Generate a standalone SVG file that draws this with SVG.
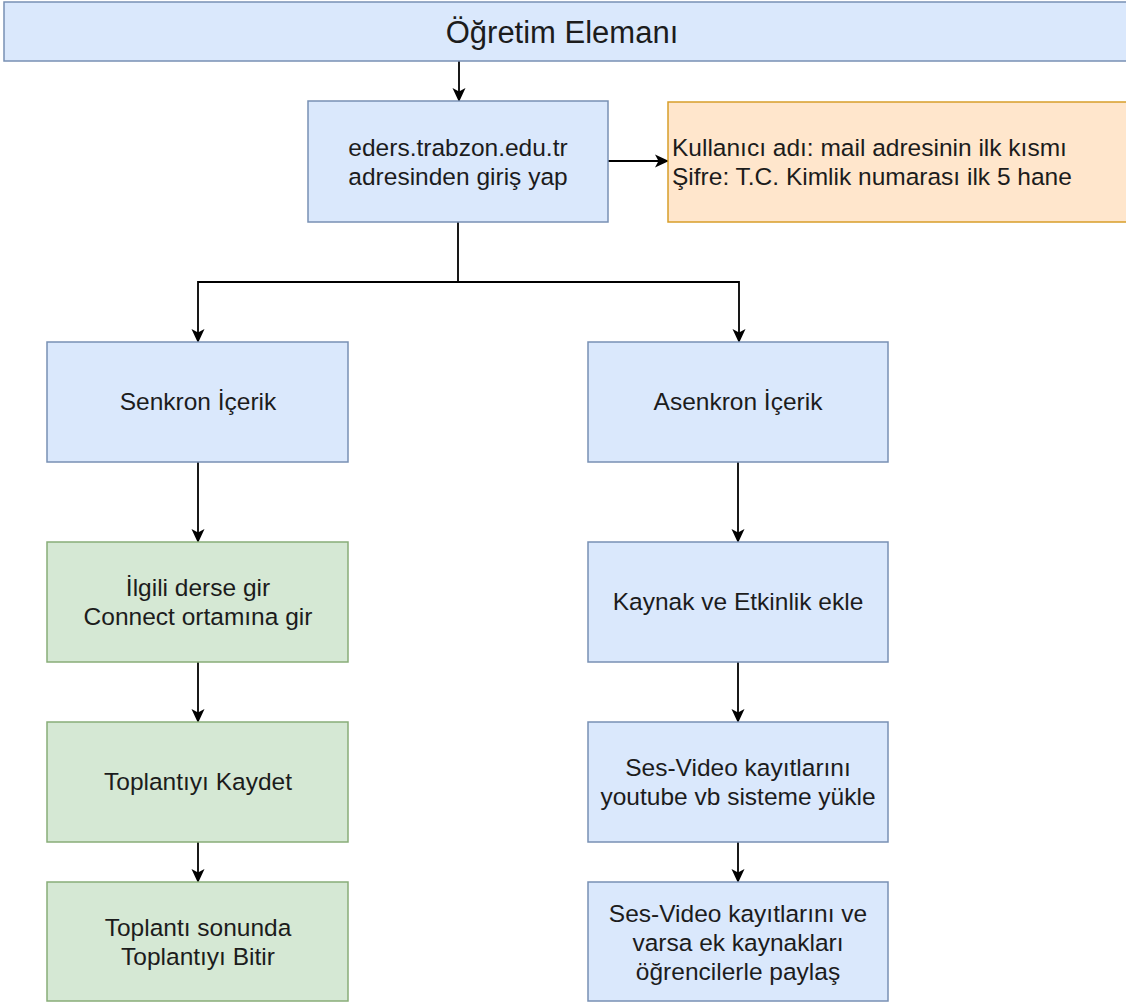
<svg xmlns="http://www.w3.org/2000/svg" width="1126" height="1005" viewBox="0 0 1126 1005">
<defs>
<style>
.blue{fill:#dae8fc;stroke:#7890b4;stroke-width:1.5}
.green{fill:#d5e8d4;stroke:#88ad78;stroke-width:1.5}
.orange{fill:#ffe6cc;stroke:#d89e2a;stroke-width:1.5}
text{font-family:"Liberation Sans",Arial,sans-serif;font-size:24.5px;fill:#1c1c1c}
.c{text-anchor:middle}
.edge{fill:none;stroke:#000;stroke-width:1.8}
</style>
<marker id="arr" markerWidth="14" markerHeight="14" viewBox="0 0 14 14" refX="13" refY="7" orient="auto" markerUnits="userSpaceOnUse">
<path d="M0,0.5 L14,7 L0,13.5 L3.5,7 z" fill="#000"/>
</marker>
</defs>
<rect width="1126" height="1005" fill="#ffffff"/>
<g id="connectors">
<path class="edge" d="M459,61 V101" marker-end="url(#arr)"/>
<path class="edge" d="M608,161 H668" marker-end="url(#arr)"/>
<path class="edge" d="M458,222 V282 H198 V342" marker-end="url(#arr)"/>
<path class="edge" d="M458,282 H739 V342" marker-end="url(#arr)"/>
<path class="edge" d="M198,462 V542" marker-end="url(#arr)"/>
<path class="edge" d="M198,662 V722" marker-end="url(#arr)"/>
<path class="edge" d="M198,842 V882" marker-end="url(#arr)"/>
<path class="edge" d="M738,462 V542" marker-end="url(#arr)"/>
<path class="edge" d="M738,662 V722" marker-end="url(#arr)"/>
<path class="edge" d="M738,842 V882" marker-end="url(#arr)"/>
</g>
<g id="ogretim">
<rect class="blue" x="4" y="2" width="1140" height="59"/>
<text class="c" x="562" y="43" style="font-size:31px">Öğretim Elemanı</text>
</g>
<g id="giris">
<rect class="blue" x="308" y="101" width="300" height="121"/>
<text class="c" x="458" y="156">eders.trabzon.edu.tr</text>
<text class="c" x="458" y="185">adresinden giriş yap</text>
</g>
<g id="bilgi">
<rect class="orange" x="668" y="102" width="480" height="120"/>
<text x="672" y="156">Kullanıcı adı: mail adresinin ilk kısmı</text>
<text x="672" y="185">Şifre: T.C. Kimlik numarası ilk 5 hane</text>
</g>
<g id="senkron">
<rect class="blue" x="47" y="342" width="301" height="120"/>
<text class="c" x="198" y="410">Senkron İçerik</text>
</g>
<g id="asenkron">
<rect class="blue" x="588" y="342" width="300" height="120"/>
<text class="c" x="738" y="410">Asenkron İçerik</text>
</g>
<g id="derse-gir">
<rect class="green" x="47" y="542" width="301" height="120"/>
<text class="c" x="198" y="596">İlgili derse gir</text>
<text class="c" x="198" y="625">Connect ortamına gir</text>
</g>
<g id="kaynak">
<rect class="blue" x="588" y="542" width="300" height="120"/>
<text class="c" x="738" y="610">Kaynak ve Etkinlik ekle</text>
</g>
<g id="kaydet">
<rect class="green" x="47" y="722" width="301" height="120"/>
<text class="c" x="198" y="790">Toplantıyı Kaydet</text>
</g>
<g id="yukle">
<rect class="blue" x="588" y="722" width="300" height="120"/>
<text class="c" x="738" y="776">Ses-Video kayıtlarını</text>
<text class="c" x="738" y="805">youtube vb sisteme yükle</text>
</g>
<g id="bitir">
<rect class="green" x="47" y="882" width="301" height="119"/>
<text class="c" x="198" y="936">Toplantı sonunda</text>
<text class="c" x="198" y="965">Toplantıyı Bitir</text>
</g>
<g id="paylas">
<rect class="blue" x="588" y="882" width="300" height="119"/>
<text class="c" x="738" y="922">Ses-Video kayıtlarını ve</text>
<text class="c" x="738" y="951">varsa ek kaynakları</text>
<text class="c" x="738" y="980">öğrencilerle paylaş</text>
</g>
</svg>
